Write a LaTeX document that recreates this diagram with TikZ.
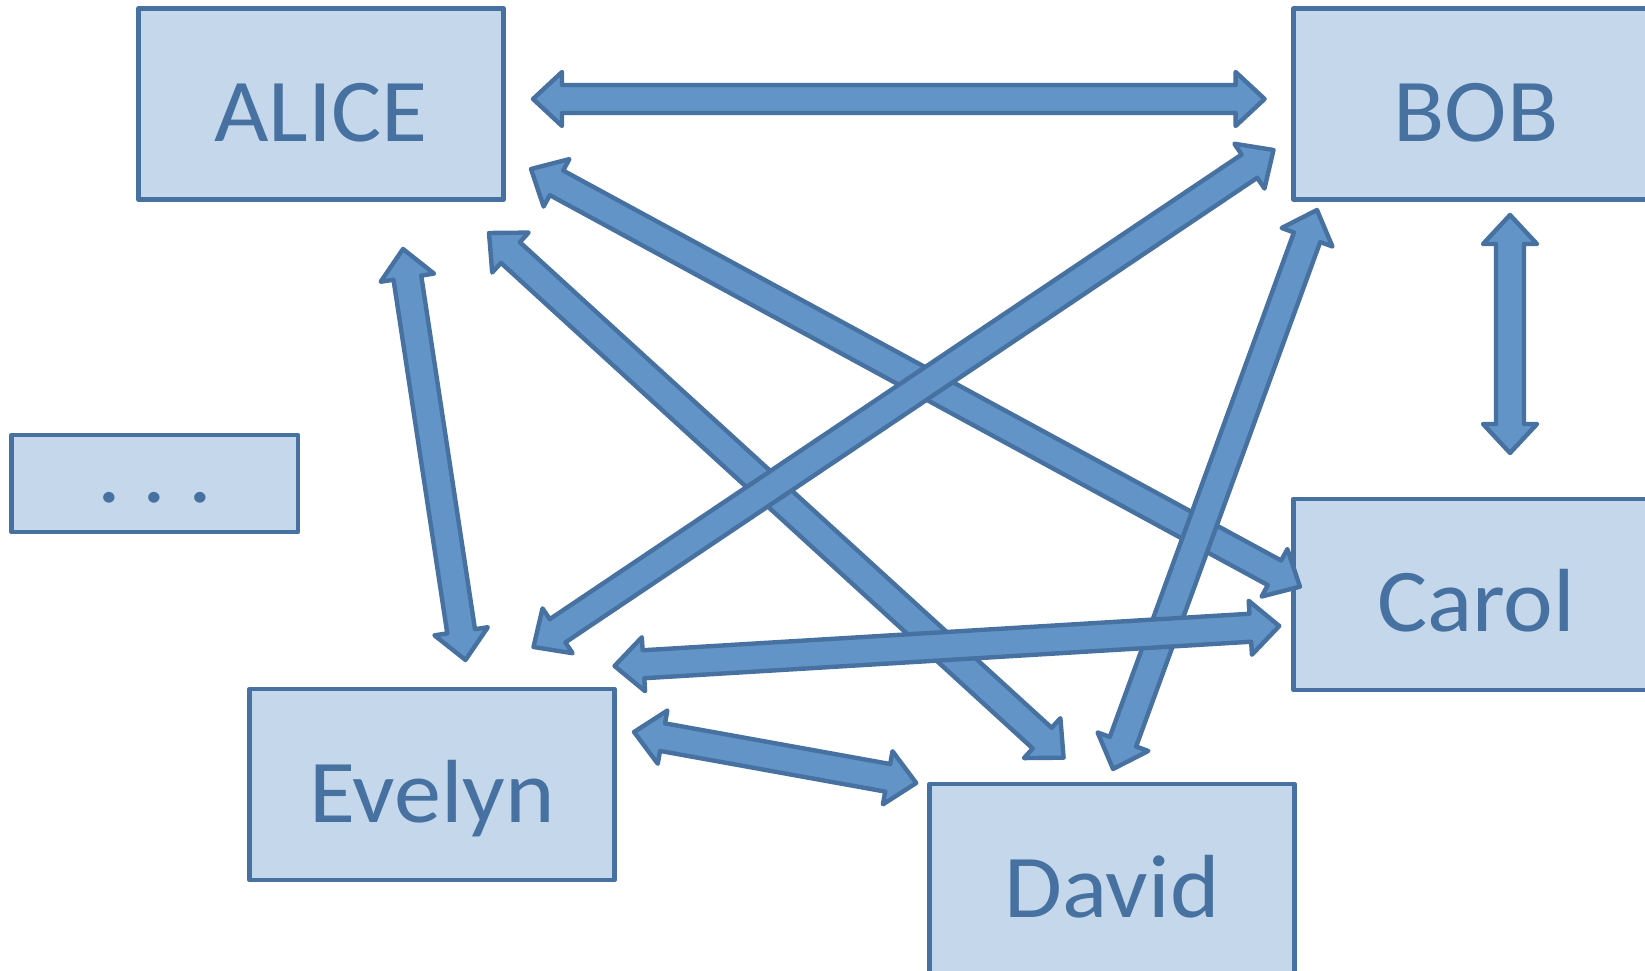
\documentclass[tikz,border=0pt]{standalone}
\usepackage{fontspec}
\setmainfont[FakeStretch=1.05]{Carlito}
\usetikzlibrary{calc}
\definecolor{boxfill}{RGB}{197,216,235}
\definecolor{boxline}{RGB}{70,113,160}
\definecolor{arrfill}{RGB}{98,148,200}
% double-headed block arrow between two named coordinates
\newcommand\fatarrow[2]{%
  \draw[fat] let \p1=($(#2)-(#1)$), \n1={atan2(\y1,\x1)}, \n2={veclen(\x1,\y1)} in
    ([shift={(#1)},rotate=\n1]0pt,0pt)
    -- ([shift={(#1)},rotate=\n1]0.29cm,0.27cm)
    -- ([shift={(#1)},rotate=\n1]0.29cm,0.14cm)
    -- ([shift={(#1)},rotate=\n1]{\n2-0.29cm},0.14cm)
    -- ([shift={(#1)},rotate=\n1]{\n2-0.29cm},0.27cm)
    -- ([shift={(#1)},rotate=\n1]{\n2},0pt)
    -- ([shift={(#1)},rotate=\n1]{\n2-0.29cm},-0.27cm)
    -- ([shift={(#1)},rotate=\n1]{\n2-0.29cm},-0.14cm)
    -- ([shift={(#1)},rotate=\n1]0.29cm,-0.14cm)
    -- ([shift={(#1)},rotate=\n1]0.29cm,-0.27cm)
    -- cycle;%
}
\begin{document}
\begin{tikzpicture}[x=0.01cm,y=-0.01cm,
  box/.style={draw=boxline, fill=boxfill, line width=1.25pt, line join=round,
    minimum width=3.65cm, minimum height=1.91cm, inner sep=0pt,
    text=boxline, font=\fontsize{25.5}{30}\selectfont,
    text height=0.75cm, text depth=0pt},
  smallbox/.style={box, minimum width=2.865cm, minimum height=0.97cm,
    text height=0.39cm},
  fat/.style={draw=boxline, fill=arrfill, line width=1.25pt, line join=round}]
\path[use as bounding box, clip] (0,0) rectangle (1645,971);

% boxes
\node[box] (alice) at (321,104) {ALICE};
\node[box] (bob) at (1476,104) {BOB};
\node[smallbox] (dots) at (154.7,483.5) {.\hspace{0.22cm}.\hspace{0.22cm}.};
\node[box] (carol) at (1476,594.3) {Carol};
\node[box] (evelyn) at (432,784.5) {Evelyn};
\node[box] (david) at (1112,879.5) {David};

% arrow end points
\coordinate (ab1) at (533,99);
\coordinate (ab2) at (1264.6,99);
\coordinate (ac1) at (531,169);
\coordinate (ac2) at (1300,586.7);
\coordinate (be1) at (1273.5,150);
\coordinate (be2) at (533.5,647);
\coordinate (ad1) at (489,233);
\coordinate (ad2) at (1063.6,757.7);
\coordinate (bd1) at (1317,210);
\coordinate (bd2) at (1113,769);
\coordinate (bc1) at (1510,215);
\coordinate (bc2) at (1510,453);
\coordinate (ae1) at (403,249);
\coordinate (ae2) at (465.5,660);
\coordinate (ec1) at (614.5,666);
\coordinate (ec2) at (1279.3,626);
\coordinate (ed1) at (634,732);
\coordinate (ed2) at (916.3,783);

% arrows (stacking order as in the picture)
\fatarrow{ab1}{ab2}
\fatarrow{bc1}{bc2}
\fatarrow{ae1}{ae2}
\fatarrow{ed1}{ed2}
\fatarrow{ac1}{ac2}
\fatarrow{ad1}{ad2}
\fatarrow{be1}{be2}
\fatarrow{bd1}{bd2}
\fatarrow{ec1}{ec2}
\end{tikzpicture}
\end{document}
